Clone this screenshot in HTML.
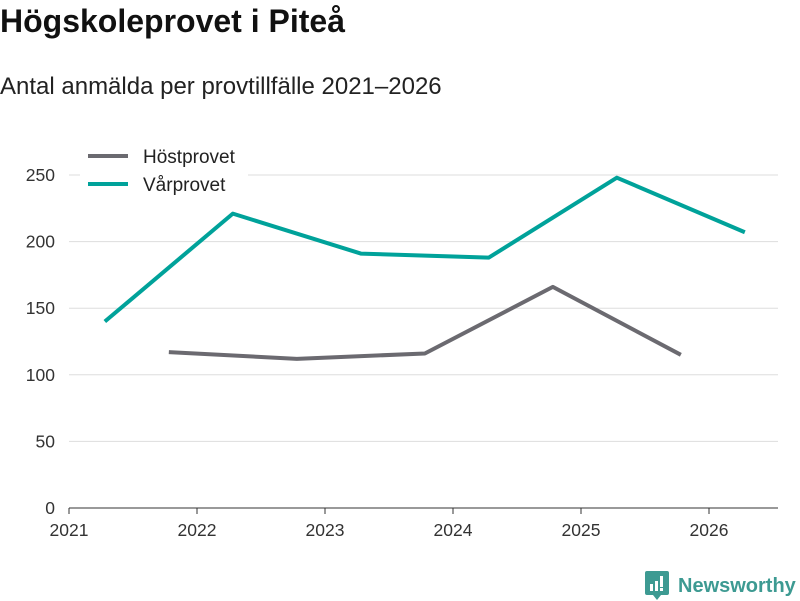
<!DOCTYPE html>
<html><head><meta charset="utf-8"><style>
body{margin:0;width:800px;height:600px;background:#fff;font-family:"Liberation Sans",sans-serif;overflow:hidden;position:relative}
#title{position:absolute;left:0;top:3px;font-size:32px;font-weight:bold;color:#111}
#sub{position:absolute;left:0;top:73px;font-size:24px;color:#222}
svg{position:absolute;left:0;top:0}
</style></head><body>
<div id="title">Högskoleprovet i Piteå</div>
<div id="sub">Antal anmälda per provtillfälle 2021–2026</div>
<svg id="c" width="800" height="600"></svg>
<script>
const yTicks=[0,50,100,150,200,250];
const xTicks=[2021,2022,2023,2024,2025,2026];
const hostX=[2021.78,2022.78,2023.78,2024.78,2025.78];
const hostV=[117,112,116,166,115];
const varX=[2021.28,2022.28,2023.28,2024.28,2025.28,2026.28];
const varV=[140,221,191,188,248,207];
const NS="http://www.w3.org/2000/svg";
const svg=document.getElementById('c');
const xs=v=>69+(v-2021)*128;
const ys=v=>508-v*1.332;
function el(t,a,p){const e=document.createElementNS(NS,t);for(const k in a)e.setAttribute(k,a[k]);(p||svg).appendChild(e);return e;}
yTicks.forEach(t=>{
  const l=el('line',{x1:69,x2:778,y1:ys(t),y2:ys(t),stroke:t===0?'#333':'#ddd','stroke-width':1});
  
  
  const tx=el('text',{x:55,y:ys(t)+6,'text-anchor':'end','font-size':17.5,fill:'#333'});
  tx.textContent=t;
  
  
});
xTicks.forEach(t=>{
  const l=el('line',{x1:xs(t),x2:xs(t),y1:508,y2:514,stroke:'#333'});
  
  
  const tx=el('text',{x:xs(t),y:536,'text-anchor':'middle','font-size':17.5,fill:'#333'});
  tx.textContent=t;
  
  
});
function line(xa,va,col,name){
  const p=el('polyline',{points:xa.map((x,i)=>xs(x)+','+ys(va[i])).join(' '),fill:'none',stroke:col,'stroke-width':4,'stroke-linejoin':'round'});
  
  
}
line(hostX,hostV,'#6b6a70','line-hostprovet');
line(varX,varV,'#00a29a','line-varprovet');
const bg=el('rect',{x:80,y:143,width:168,height:54,fill:'#fff'});


[['Höstprovet','#6b6a70',156],['Vårprovet','#00a29a',184]].forEach(([n,c,y])=>{
  const g=el('g',{});
  
  
  el('line',{x1:88,x2:128,y1:y,y2:y,stroke:c,'stroke-width':4},g);
  const t=el('text',{x:143,y:y+7,'font-size':19,fill:'#222'},g);t.textContent=n;
});
</script>
<div style="position:absolute;left:645px;top:571px;display:flex;align-items:center">
<svg width="24" height="30" style="position:static" viewBox="0 0 24 30"><path d="M2 0H22Q24 0 24 2V22Q24 24 22 24H16L12 29L8 24H2Q0 24 0 22V2Q0 0 2 0Z" fill="#3d9a92"/><rect x="5" y="13" width="3" height="7" fill="#fff"/><rect x="10" y="10" width="3" height="10" fill="#fff"/><rect x="15" y="5" width="3" height="11" fill="#fff"/><rect x="15" y="17" width="3" height="3" fill="#fff"/></svg>
<span style="margin-left:9px;font-size:20px;font-weight:bold;color:#3d9a92">Newsworthy</span></div>
</body></html>
